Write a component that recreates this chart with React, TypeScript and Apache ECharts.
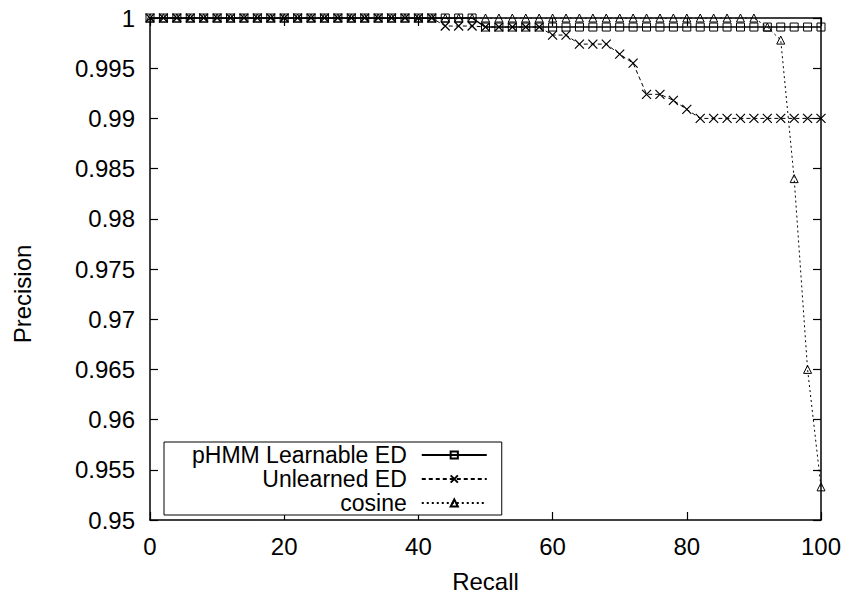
import React, { useEffect, useRef } from "react";
import * as echarts from "echarts";

const recall = [
  0, 2, 4, 6, 8, 10, 12, 14, 16, 18, 20, 22, 24, 26, 28, 30, 32, 34, 36, 38, 40,
  42, 44, 46, 48, 50, 52, 54, 56, 58, 60, 62, 64, 66, 68, 70, 72, 74, 76, 78, 80,
  82, 84, 86, 88, 90, 92, 94, 96, 98, 100,
];

const phmmLearnable = [
  1, 1, 1, 1, 1, 1, 1, 1, 1, 1, 1, 1, 1, 1, 1, 1, 1, 1, 1, 1, 1,
  1, 1, 1, 1, 0.9991, 0.9991, 0.9991, 0.9991, 0.9991, 0.9991, 0.9991, 0.9991, 0.9991, 0.9991, 0.9991, 0.9991, 0.9991, 0.9991, 0.9991, 0.9991,
  0.9991, 0.9991, 0.9991, 0.9991, 0.9991, 0.9991, 0.9991, 0.9991, 0.9991, 0.9991,
];

const unlearnedED = [
  1, 1, 1, 1, 1, 1, 1, 1, 1, 1, 1, 1, 1, 1, 1, 1, 1, 1, 1, 1, 1,
  1, 0.9992, 0.9992, 0.9992, 0.9991, 0.9991, 0.9991, 0.9991, 0.9991, 0.9983, 0.9983, 0.9974, 0.9974, 0.9974, 0.9964, 0.9955, 0.9924, 0.9924, 0.9918, 0.9909,
  0.99, 0.99, 0.99, 0.99, 0.99, 0.99, 0.99, 0.99, 0.99, 0.99,
];

const cosine = [
  1, 1, 1, 1, 1, 1, 1, 1, 1, 1, 1, 1, 1, 1, 1, 1, 1, 1, 1, 1, 1,
  1, 1, 1, 1, 1, 1, 1, 1, 1, 1, 1, 1, 1, 1, 1, 1, 1, 1, 1, 1,
  1, 1, 1, 1, 1, 0.9991, 0.9978, 0.984, 0.965, 0.9533,
];

const seriesNames = ["pHMM Learnable ED", "Unlearned ED", "cosine"];
const xTicks = { min: 0, max: 100, interval: 20 };
const yTicks = { min: 0.95, max: 1, interval: 0.005 };
const xTitle = "Recall";
const yTitle = "Precision";

const FONT = "Liberation Sans, Arial, Helvetica, sans-serif";
const CROSS = "path://M0,0L10,10M10,0L0,10";

export default function App() {
  const ref = useRef<HTMLDivElement>(null);
  useEffect(() => {
    if (!ref.current) return;
    const chart = echarts.init(ref.current, null, { renderer: "svg" });
    const axisLine = { show: true, onZero: false, lineStyle: { color: "#000", width: 1.5 } };
    const tick = { show: true, inside: true, length: 8, lineStyle: { color: "#000", width: 1.2 } };
    const mk = (vals: number[]) => recall.map((r, i) => [r, vals[i]]);
    const markerStyle = { color: "rgba(0,0,0,0)", borderColor: "#000", borderWidth: 1 };
    chart.setOption({
      animation: false,
      backgroundColor: "#fff",
      grid: { left: 150, right: 28, top: 18, bottom: 76, show: false },
      graphic: [
        {
          type: "text", x: 22, y: 294, rotation: Math.PI / 2,
          style: {
            text: yTitle, fill: "#000", font: `24px ${FONT}`,
            align: "center", verticalAlign: "middle",
          },
        },
      ],
      xAxis: [
        {
          type: "value", ...xTicks, position: "bottom",
          axisLine, axisTick: tick, splitLine: { show: false },
          axisLabel: { color: "#000", fontFamily: FONT, fontSize: 24, margin: 14 },
          name: xTitle, nameLocation: "middle", nameGap: 49,
          nameTextStyle: { color: "#000", fontFamily: FONT, fontSize: 24 },
        },
        {
          type: "value", ...xTicks, position: "top",
          axisLine, axisTick: tick, splitLine: { show: false }, axisLabel: { show: false },
        },
      ],
      yAxis: [
        {
          type: "value", ...yTicks, position: "left",
          axisLine, axisTick: tick, splitLine: { show: false },
          axisLabel: {
            color: "#000", fontFamily: FONT, fontSize: 24, margin: 15,
            formatter: (v: number) => String(Math.round(v * 1000) / 1000),
          },
        },
        {
          type: "value", ...yTicks, position: "right",
          axisLine, axisTick: tick, splitLine: { show: false }, axisLabel: { show: false },
        },
      ],
      legend: {
        show: true, orient: "vertical", left: 164, top: 442, align: "right",
        itemWidth: 65, itemHeight: 9, itemGap: 0,
        padding: [1, 14, 0, 28],
        borderColor: "#000", borderWidth: 1, backgroundColor: "#fff",
        textStyle: { color: "#000", fontFamily: FONT, fontSize: 23, lineHeight: 24, padding: [0, 10, 0, 0] },
        data: seriesNames,
      },
      series: [
        {
          name: seriesNames[0], type: "line", data: mk(phmmLearnable),
          symbol: "rect", symbolSize: 8, itemStyle: markerStyle,
          lineStyle: { color: "#000", width: 1.5, type: "solid" },
        },
        {
          name: seriesNames[1], type: "line", data: mk(unlearnedED),
          symbol: CROSS, symbolSize: 9, itemStyle: { ...markerStyle, borderWidth: 1.2 },
          lineStyle: { color: "#000", width: 1, type: [4, 3] },
        },
        {
          name: seriesNames[2], type: "line", data: mk(cosine),
          symbol: "triangle", symbolSize: 8, itemStyle: markerStyle,
          lineStyle: { color: "#000", width: 1, type: [2, 3] },
        },
      ],
    });
    return () => chart.dispose();
  }, []);
  return <div ref={ref} style={{ width: 849, height: 598, position: "absolute", left: 0, top: 0 }} />;
}
